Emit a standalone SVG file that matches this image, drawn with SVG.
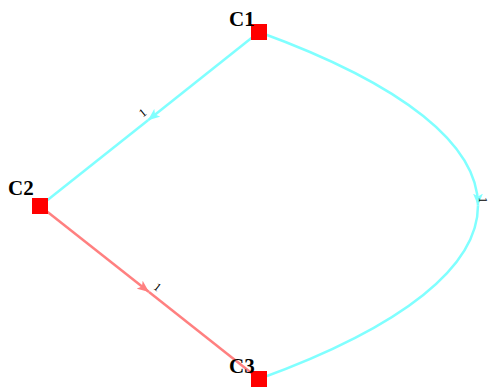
<svg xmlns="http://www.w3.org/2000/svg" width="490" height="387" viewBox="0 0 490 387">
<style>
.node{fill:#ff0000}
.nl{font-family:"Liberation Serif",serif;font-weight:bold;font-size:21px;fill:#000}
.el{font-family:"Liberation Serif",serif;font-size:12px;fill:#000}
.cy{stroke:#80ffff;stroke-width:2.5;fill:none}
.sa{stroke:#ff8080;stroke-width:2.5;fill:none}
</style>
<defs>
<marker id="ac" viewBox="0 0 12 10" refX="12" refY="5" markerWidth="12" markerHeight="10" markerUnits="userSpaceOnUse" orient="auto"><path d="M0,0 L12,5 L0,10 L3,5 Z" fill="#80ffff"/></marker>
<marker id="as" viewBox="0 0 12 10" refX="12" refY="5" markerWidth="12" markerHeight="10" markerUnits="userSpaceOnUse" orient="auto"><path d="M0,0 L12,5 L0,10 L3,5 Z" fill="#ff8080"/></marker>
</defs>
<g id="edges">
<path class="cy" d="M259,32 L148,120.2" marker-end="url(#ac)"/>
<path class="cy" d="M148,120.2 L40,206"/>
<text class="el" x="145" y="116" transform="rotate(-38.5 145 116)" text-anchor="middle">1</text>
<path class="sa" d="M40,206 L149,292.1" marker-end="url(#as)"/>
<path class="sa" d="M149,292.1 L259,379"/>
<text class="el" x="155" y="290" transform="rotate(38.3 155 290)" text-anchor="middle">1</text>
<path class="cy" d="M259,32 C405,85 478,145.25 478,205.5" marker-end="url(#ac)"/>
<path class="cy" d="M478,205.5 C478,265.75 405,326 259,379"/>
<text class="el" x="479" y="200" transform="rotate(90 479 200)" text-anchor="middle">1</text>
</g>
<g id="C1"><rect class="node" x="251" y="24" width="16" height="16"/><text class="nl" x="229" y="26">C1</text></g>
<g id="C2"><rect class="node" x="32" y="198" width="16" height="16"/><text class="nl" x="8" y="195">C2</text></g>
<g id="C3"><rect class="node" x="251" y="371" width="16" height="16"/><text class="nl" x="229" y="373">C3</text></g>
</svg>
